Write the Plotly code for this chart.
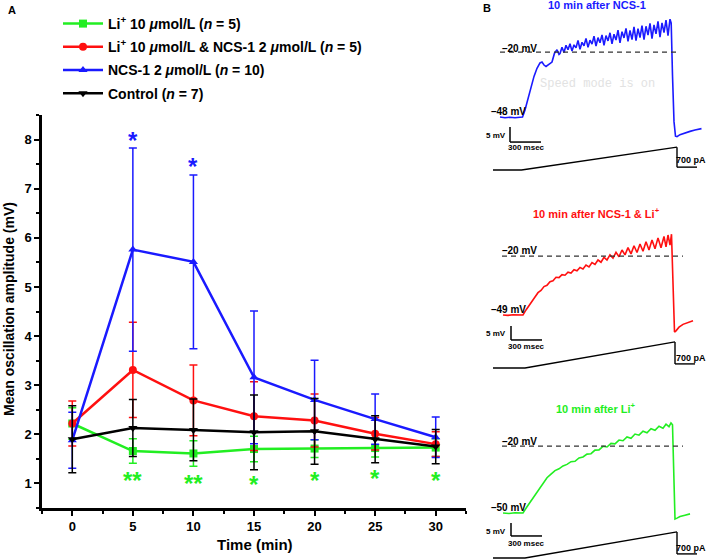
import plotly.graph_objects as go

W, H = 709, 560
FONT = "Arial, 'Liberation Sans', sans-serif"
GREEN = "#22ee22"
RED = "#ff1010"
BLUE = "#1a1aff"
BLACK = "#000000"

# ---------------- Panel A data ----------------
time_min = [0, 5, 10, 15, 20, 25, 30]
x_ticks = [0, 5, 10, 15, 20, 25, 30]
y_ticks = [1, 2, 3, 4, 5, 6, 7, 8]

li_mean = [2.22, 1.66, 1.61, 1.70, 1.71, 1.72, 1.73]
li_err = [0.32, 0.25, 0.26, 0.26, 0.18, 0.18, 0.18]

li_ncs_mean = [2.22, 3.31, 2.69, 2.37, 2.28, 2.01, 1.80]
li_ncs_err = [0.46, 0.97, 0.72, 0.70, 0.54, 0.33, 0.25]

ncs_mean = [1.88, 5.76, 5.51, 3.16, 2.70, 2.31, 1.94]
ncs_err = [0.57, 2.07, 1.77, 1.35, 0.81, 0.51, 0.41]

ctrl_mean = [1.90, 2.13, 2.09, 2.04, 2.06, 1.90, 1.75]
ctrl_err = [0.68, 0.58, 0.63, 0.76, 0.67, 0.48, 0.35]

# significance marks (time, label, y position)
blue_sig_t = [5, 10]
blue_sig_lbl = ["*", "*"]
blue_sig_y = [7.98, 7.45]
green_sig_t = [5, 10, 15, 20, 25, 30]
green_sig_lbl = ["**", "**", "*", "*", "*", "*"]
green_sig_y = [1.05, 0.99, 0.97, 1.07, 1.11, 1.07]

# ---------------- Panel B data (time in ms, membrane potential in mV) ----------------
ncs_t = [0, 50, 100, 150, 200, 225, 250, 280, 310, 340, 370, 400, 420, 440, 460, 490,
         520, 545, 570, 590,
         600, 620, 640, 660, 680, 700, 720, 740, 760, 780, 800, 820, 840, 860, 880, 900,
         920, 940, 960, 980, 1000, 1020, 1040, 1060, 1080, 1100, 1120, 1140, 1160, 1180,
         1200, 1220, 1240, 1260, 1280, 1300, 1320, 1340, 1360, 1380, 1400, 1420, 1440,
         1460, 1480, 1500, 1520, 1540, 1560, 1580, 1600, 1620, 1640, 1660, 1680, 1700,
         1712,
         1725, 1740, 1755, 1770, 1800, 1850, 1900, 1950, 2015]
ncs_v = [-48, -48.3, -48.1, -48.3, -48.1, -48, -45, -40, -35, -30.5, -27, -24.7, -24.3,
         -25.6, -26.2, -25.4, -24.3, -20.5, -19.0, -21.0,
         -20.6, -17.9, -20.2, -17.1, -19.0, -16.4, -19.6, -16.9, -18.2, -15.0, -18.8,
         -15.8, -17.3, -14.1, -18.0, -14.9, -16.6, -13.2, -17.4, -13.8, -16.0, -12.6,
         -17.1, -12.9, -15.2, -11.7, -16.5, -12.3, -14.8, -10.6, -16.0, -11.2, -13.9,
         -9.8, -15.4, -10.7, -14.6, -9.2, -15.1, -9.9, -13.8, -8.6, -14.6, -8.9, -12.7,
         -7.6, -14.2, -8.3, -12.2, -6.8, -13.6, -7.4, -11.6, -6.2, -12.9, -5.8,
         -7.5,
         -30, -50, -56.3, -56.5, -55.6, -54.8, -54.2, -53.6, -53.0]

li_ncs_t = [30, 80, 130, 180, 230, 260, 290, 320, 350, 380, 410, 440, 470, 500, 530, 560,
            590, 620, 650, 680, 710, 740, 770, 800, 830, 860, 890, 920, 950, 980, 1010,
            1040, 1070, 1100, 1130, 1160, 1190, 1220, 1250, 1280, 1310, 1340, 1370, 1400,
            1430, 1460, 1490, 1520, 1550, 1580, 1610, 1640, 1660, 1680, 1700, 1715,
            1730, 1745, 1760, 1790, 1830, 1880, 1930]
li_ncs_v = [-49, -49.2, -48.9, -49.1, -49, -46.5, -44.2, -41.8, -40.1, -38.0, -36.9, -35.0,
            -34.4, -32.6, -32.1, -30.4, -30.6, -29.1, -29.4, -27.9, -28.3, -26.7, -27.2,
            -25.6, -26.3, -24.4, -25.3, -23.2, -24.1, -21.9, -23.0, -20.6, -21.9, -19.4,
            -21.0, -18.1, -20.3, -17.0, -19.4, -15.8, -18.9, -14.9, -18.2, -14.0, -17.6,
            -12.9, -17.0, -12.1, -16.4, -11.0, -15.9, -10.3, -15.4, -9.6, -14.6, -9.2,
            -35, -57.4, -56.8, -55.0, -53.6, -52.5, -51.8]

li_t = [30, 90, 150, 200, 230, 270, 310, 350, 390, 430, 470, 510, 550, 590, 630, 670, 710,
        750, 790, 830, 870, 910, 950, 990, 1030, 1070, 1110, 1150, 1190, 1230, 1270, 1310,
        1350, 1390, 1430, 1470, 1510, 1550, 1590, 1630, 1660, 1690, 1710, 1725,
        1740, 1750, 1770, 1800, 1850, 1900]
li_v = [-50, -50.2, -49.9, -50.1, -50, -47.2, -44.5, -42.1, -39.6, -36.9, -34.2, -32.6,
        -31.0, -30.2, -28.9, -28.2, -27.0, -26.8, -25.3, -24.9, -23.6, -23.4, -21.8, -21.7,
        -20.1, -20.4, -18.8, -19.0, -17.3, -17.6, -15.9, -16.5, -14.6, -15.1, -13.3, -14.0,
        -12.2, -12.9, -11.1, -12.0, -10.2, -11.3, -9.6, -10.4,
        -40, -52.7, -52.3, -51.6, -51.0, -50.4]

# injected current ramps (pA)
ramp_t_top = [-70, 215, 1770]
ramp_i_top = [0, 0, 800]
ramp_t_mid = [-70, 250, 1750]
ramp_i_mid = [0, 0, 830]
ramp_t_bot = [-70, 250, 1770]
ramp_i_bot = [0, 0, 830]


def pxx(x):
    return x / W


def pxy(y):
    return 1 - y / H


fig = go.Figure()

series = [
    ("<b>Li<sup>+</sup> 10 <i>μ</i>mol/L (<i>n</i> = 5)</b>", li_mean, li_err, GREEN, "square"),
    ("<b>Li<sup>+</sup> 10 <i>μ</i>mol/L & NCS-1 2 <i>μ</i>mol/L (<i>n</i> = 5)</b>",
     li_ncs_mean, li_ncs_err, RED, "circle"),
    ("<b>NCS-1 2 <i>μ</i>mol/L (<i>n</i> = 10)</b>", ncs_mean, ncs_err, BLUE, "triangle-up"),
    ("<b>Control (<i>n</i> = 7)</b>", ctrl_mean, ctrl_err, BLACK, "triangle-down"),
]
for i, (name, m, e, c, sym) in enumerate(series):
    fig.add_trace(go.Scatter(
        x=time_min, y=m, name=name, mode="lines+markers", legendgroup="g%d" % i,
        line=dict(color=c, width=2.5),
        marker=dict(symbol=sym, size=8, color=c),
        error_y=dict(type="data", array=e, color=c, thickness=1.5, width=4),
        xaxis="x", yaxis="y",
    ))

# Panel B voltage traces
fig.add_trace(go.Scatter(x=ncs_t, y=ncs_v, mode="lines", line=dict(color=BLUE, width=1.6),
                         xaxis="x2", yaxis="y2", showlegend=False, hoverinfo="skip"))
fig.add_trace(go.Scatter(x=li_ncs_t, y=li_ncs_v, mode="lines", line=dict(color=RED, width=1.6),
                         xaxis="x2", yaxis="y4", showlegend=False, hoverinfo="skip"))
fig.add_trace(go.Scatter(x=li_t, y=li_v, mode="lines", line=dict(color=GREEN, width=1.6),
                         xaxis="x2", yaxis="y6", showlegend=False, hoverinfo="skip"))
# current ramps
for rt, ri, ya in [(ramp_t_top, ramp_i_top, "y3"), (ramp_t_mid, ramp_i_mid, "y5"),
                   (ramp_t_bot, ramp_i_bot, "y7")]:
    fig.add_trace(go.Scatter(x=rt, y=ri, mode="lines", line=dict(color=BLACK, width=1.4),
                             xaxis="x2", yaxis=ya, showlegend=False, hoverinfo="skip"))

shapes = []
# -20 mV dashed reference lines
for ya, t0, t1 in [("y2", 0, 1790), ("y4", 20, 1830), ("y6", 20, 1830)]:
    shapes.append(dict(type="line", xref="x2", yref=ya, x0=t0, x1=t1, y0=-20, y1=-20,
                       line=dict(color="#333333", width=1.2, dash="5px,4px")))
# voltage scale bars (5 mV / 300 msec)
for ya, tb, vtop, vbot in [("y2", 100, -52.3, -58.8), ("y4", 110, -54.4, -61.3),
                           ("y6", 110, -54.5, -60.3)]:
    shapes.append(dict(type="line", xref="x2", yref=ya, x0=tb, x1=tb, y0=vtop, y1=vbot,
                       line=dict(color=BLACK, width=1.5)))
    shapes.append(dict(type="line", xref="x2", yref=ya, x0=tb, x1=tb + 310, y0=vbot, y1=vbot,
                       line=dict(color=BLACK, width=1.5)))
# current scale bars (700 pA)
for ya, tr, itop in [("y3", 1770, 800), ("y5", 1750, 830), ("y7", 1770, 830)]:
    shapes.append(dict(type="line", xref="x2", yref=ya, x0=tr, x1=tr, y0=itop, y1=itop - 700,
                       line=dict(color=BLACK, width=1.4)))
    shapes.append(dict(type="line", xref="x2", yref=ya, x0=tr, x1=tr + 200, y0=itop - 700,
                       y1=itop - 700, line=dict(color=BLACK, width=1.4)))

ann = []


def text(x, y, t, size, color=BLACK, xanchor="left", yanchor="middle", family=FONT, angle=0):
    ann.append(dict(x=pxx(x), y=pxy(y), xref="paper", yref="paper", text=t, showarrow=False,
                    xanchor=xanchor, yanchor=yanchor, textangle=angle,
                    font=dict(size=size, color=color, family=family)))


text(12, 10, "<b>A</b>", 11, xanchor="center")
text(487, 8, "<b>B</b>", 11, xanchor="center")
text(9, 309, "<b>Mean oscillation amplitude (mV)</b>", 14, xanchor="center", angle=-90)
text(255, 544, "<b>Time (min)</b>", 15, xanchor="center")

# Panel B titles
text(597, 5, "<b>10 min after NCS-1</b>", 11, BLUE, xanchor="center")
text(596, 213, "<b>10 min after NCS-1 & Li<sup>+</sup></b>", 11, RED, xanchor="center")
text(596, 408, "<b>10 min after Li<sup>+</sup></b>", 11, GREEN, xanchor="center")

# Panel B labels
for y20, yrest, rest, y5, y300, y700 in [(48, 112, "–48 mV", 135, 148, 160),
                                          (251, 309, "–49 mV", 333, 346, 358),
                                          (441, 507, "–50 mV", 531, 543, 548)]:
    text(500, y20, "<b>–20 mV</b>", 10)
    text(489, yrest, "<b>" + rest + "</b>", 10)
    text(508, y5, "<b>5 mV</b>", 8, xanchor="right")
    text(526, y300, "<b>300 msec</b>", 8, xanchor="center")
    text(708, y700, "<b>700 pA</b>", 9, xanchor="right")

text(538, 84, "Speed mode is on", 12, "#e2e2e2", family="'Liberation Mono', monospace")

# significance stars
for t, l, y in zip(blue_sig_t, blue_sig_lbl, blue_sig_y):
    ann.append(dict(x=t, y=y, xref="x", yref="y", text="<b>" + l + "</b>", showarrow=False,
                    font=dict(size=24, color=BLUE, family=FONT), yanchor="middle"))
for t, l, y in zip(green_sig_t, green_sig_lbl, green_sig_y):
    ann.append(dict(x=t, y=y, xref="x", yref="y", text="<b>" + l + "</b>", showarrow=False,
                    font=dict(size=24, color=GREEN, family=FONT), yanchor="middle"))

axis_common = dict(showline=True, linecolor=BLACK, linewidth=2.5, ticks="outside", ticklen=5,
                   tickwidth=2, tickcolor=BLACK, showgrid=False, zeroline=False,
                   tickfont=dict(size=13, family=FONT, color=BLACK, weight="bold"))

hidden = dict(visible=False, showgrid=False, zeroline=False, fixedrange=True)

fig.update_layout(
    width=W, height=H, margin=dict(l=0, r=0, t=0, b=0),
    paper_bgcolor="white", plot_bgcolor="white",
    font=dict(family=FONT, color=BLACK),
    showlegend=True,
    legend=dict(x=pxx(58), y=pxy(8), xanchor="left", yanchor="top",
                bgcolor="rgba(0,0,0,0)", font=dict(size=14, family=FONT, color=BLACK),
                tracegroupgap=2, itemwidth=40),
    xaxis=dict(domain=[pxx(42), pxx(466)], range=[-2.5, 32.5], tickvals=x_ticks,
               minor=dict(dtick=2.5, ticks="outside", ticklen=3, tickwidth=2, tickcolor=BLACK),
               anchor="y", **axis_common),
    yaxis=dict(domain=[pxy(508), pxy(115)], range=[0.5, 8.5], tickvals=y_ticks,
               minor=dict(dtick=0.5, ticks="outside", ticklen=3, tickwidth=2, tickcolor=BLACK),
               anchor="x", **axis_common),
    xaxis2=dict(domain=[pxx(480), 1.0], range=[-200, 2090], anchor="y2", **hidden),
    yaxis2=dict(domain=[pxy(145), pxy(15)], range=[-60.07, -4.03], anchor="x2", **hidden),
    yaxis3=dict(domain=[pxy(178), pxy(140)], range=[-280, 1050], anchor="x2", **hidden),
    yaxis4=dict(domain=[pxy(345), pxy(200)], range=[-63.78, 7.65], anchor="x2", **hidden),
    yaxis5=dict(domain=[pxy(375), pxy(335)], range=[-222.6, 1049.4], anchor="x2", **hidden),
    yaxis6=dict(domain=[pxy(545), pxy(395)], range=[-64.35, 2.91], anchor="x2", **hidden),
    yaxis7=dict(domain=[pxy(560), pxy(525)], range=[-63.6, 1049.4], anchor="x2", **hidden),
    shapes=shapes,
    annotations=ann,
)

fig.write_html("out.html",
               config={"displayModeBar": False},
               post_script="document.body.style.margin='0px';"
                           "document.body.style.overflow='hidden';")
